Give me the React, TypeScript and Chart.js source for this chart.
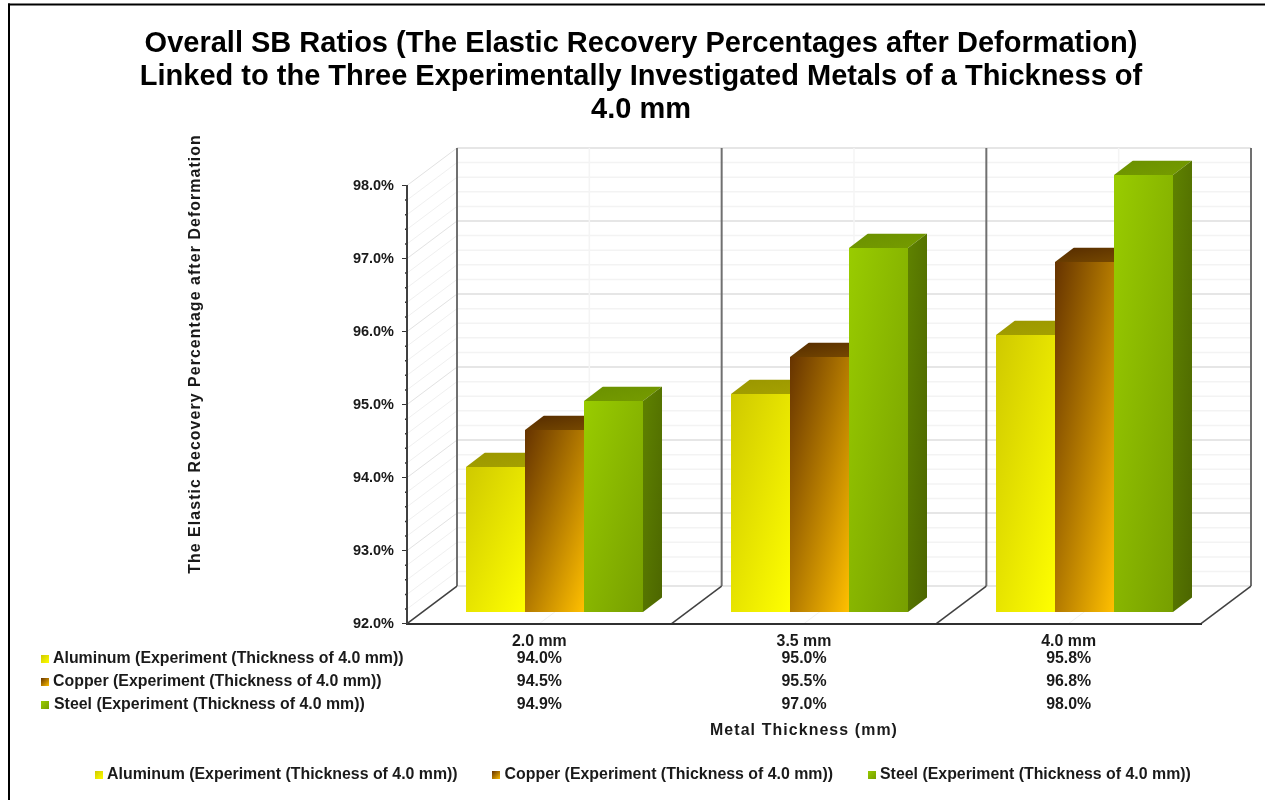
import { useEffect, useRef } from "react";
import { Chart, registerables } from "chart.js";

Chart.register(...registerables);

const FONT_FAMILY = '"Liberation Sans", Arial, sans-serif';

const categories = ["2.0 mm", "3.5 mm", "4.0 mm"];
const aluminum = [94.0, 95.0, 95.8];
const copper = [94.5, 95.5, 96.8];
const steel = [94.9, 97.0, 98.0];
const seriesNames = [
  "Aluminum (Experiment (Thickness of 4.0 mm))",
  "Copper (Experiment (Thickness of 4.0 mm))",
  "Steel (Experiment (Thickness of 4.0 mm))",
];
const titleLines = [
  "Overall SB Ratios (The Elastic Recovery Percentages after Deformation)",
  "Linked to the Three Experimentally Investigated Metals of a Thickness of",
  "4.0 mm",
];
const yAxisTitle = "The Elastic Recovery Percentage after Deformation";
const xAxisTitle = "Metal Thickness (mm)";

const frontColors = [
  ["#cfc900", "#ffff00"],
  ["#663300", "#ffc000"],
  ["#99cc00", "#779f00"],
];
const sideColors = [
  ["#8f8f00", "#6f6f00"],
  ["#4d2600", "#6f4a00"],
  ["#5f8200", "#4c6600"],
];
const topColors = [
  ["#9a9600", "#a6a200"],
  ["#552b00", "#7a4c00"],
  ["#6a9000", "#769c00"],
];

// Offsets that give the plot its perspective look.
const WALL_DX = 50;
const WALL_DY = 37.5;
const BAR_SHIFT_X = 15.5;
const BAR_SHIFT_Y = 11;
const BAR_DEPTH_X = 19;
const BAR_DEPTH_Y = 14.5;

const swatch = (colors: string[]) => {
  const c = document.createElement("canvas");
  c.width = 8;
  c.height = 8;
  const g = c.getContext("2d")!;
  const grad = g.createLinearGradient(0, 0, 8, 8);
  grad.addColorStop(0, colors[0]);
  grad.addColorStop(1, colors[1]);
  g.fillStyle = grad;
  g.fillRect(0, 0, 8, 8);
  return c;
};

const fillUnitGradient = (
  ctx: CanvasRenderingContext2D,
  colors: string[],
  x: number,
  y: number,
  w: number,
  h: number,
  path: () => void
) => {
  // The gradient runs corner to corner of the mark's box, whatever its aspect.
  ctx.save();
  path();
  ctx.clip();
  ctx.translate(x, y);
  ctx.scale(w, h);
  const grad = ctx.createLinearGradient(0, 0, 1, 1);
  grad.addColorStop(0, colors[0]);
  grad.addColorStop(1, colors[1]);
  ctx.fillStyle = grad;
  ctx.fillRect(0, 0, 1, 1);
  ctx.restore();
};

const line = (
  ctx: CanvasRenderingContext2D,
  x1: number,
  y1: number,
  x2: number,
  y2: number,
  color: string,
  width: number
) => {
  ctx.beginPath();
  ctx.moveTo(x1, y1);
  ctx.lineTo(x2, y2);
  ctx.strokeStyle = color;
  ctx.lineWidth = width;
  ctx.stroke();
};

const depthPlugin = {
  id: "depthPlot",
  afterLayout(chart: any) {
    // Nudges the centred legend row a little to the right.
    chart.legend.left += 3.5;
    chart.legend.right += 3.5;
  },
  beforeDraw(chart: any) {
    const { ctx, scales, width, height } = chart;
    const { x, y } = scales;
    const bottom = y.bottom;
    const left = x.left;
    const right = x.right;
    const top = y.top;
    const step = (right - left) / categories.length;

    ctx.save();
    ctx.fillStyle = "#ffffff";
    ctx.fillRect(0, 0, width, height);

    // Page frame, open on the right and at the bottom.
    ctx.fillStyle = "#000000";
    ctx.fillRect(8, 3.5, width - 8, 2);
    ctx.fillRect(8, 3.5, 2, height - 3.5);

    // Side wall and back wall grid.
    y.ticks.forEach((t: any) => {
      const py = y.getPixelForValue(t.value);
      const major = Math.abs(t.value - Math.round(t.value)) < 1e-6;
      const c = major ? "#dedede" : "#f3f3f3";
      line(ctx, left, py, left + WALL_DX, py - WALL_DY, major ? "#e2e2e2" : "#f0f0f0", 1);
      line(ctx, left + WALL_DX, py - WALL_DY, right + WALL_DX, py - WALL_DY, c, 1.5);
    });

    // Category centres on the wall and the floor.
    categories.forEach((_, i) => {
      const cx = x.getPixelForValue(i);
      line(ctx, cx + WALL_DX, top - WALL_DY, cx + WALL_DX, bottom - WALL_DY, "#f4f4f4", 1.5);
      line(ctx, cx + WALL_DX, bottom - WALL_DY, cx, bottom, "#f2f2f2", 1);
    });

    // Category boundaries: uprights on the wall and diagonals across the floor.
    for (let i = 0; i <= categories.length; i++) {
      const fx = left + step * i;
      line(ctx, fx + WALL_DX, top - WALL_DY, fx + WALL_DX, bottom - WALL_DY, "#707070", 2);
      line(ctx, fx + WALL_DX, bottom - WALL_DY, fx, bottom, "#404040", 1.5);
    }

    // Short minor ticks on the value axis.
    y.ticks.forEach((t: any) => {
      if (Math.abs(t.value - Math.round(t.value)) >= 1e-6) {
        const py = y.getPixelForValue(t.value);
        line(ctx, left - 2, py, left, py, "#333333", 1.5);
      }
    });
    ctx.restore();
  },
  beforeDatasetsDraw(chart: any) {
    const { ctx } = chart;
    chart.data.datasets.forEach((_: any, di: number) => {
      chart.getDatasetMeta(di).data.forEach((bar: any) => {
        // Whole-pixel edges keep the faces of each box flush with each other.
        const bx = Math.round(bar.x - bar.width / 2 + BAR_SHIFT_X);
        const w = Math.round(bar.x + bar.width / 2 + BAR_SHIFT_X) - bx;
        const by = Math.round(bar.y - BAR_SHIFT_Y);
        const bb = Math.round(bar.base - BAR_SHIFT_Y);
        const h = bb - by;
        const dx = BAR_DEPTH_X;
        const dy = BAR_DEPTH_Y;

        fillUnitGradient(ctx, topColors[di], bx, by - dy, w + dx, dy, () => {
          ctx.beginPath();
          ctx.moveTo(bx, by);
          ctx.lineTo(bx + dx, by - dy);
          ctx.lineTo(bx + w + dx, by - dy);
          ctx.lineTo(bx + w, by);
          ctx.closePath();
        });
        fillUnitGradient(ctx, sideColors[di], bx + w, by - dy, dx, h + dy, () => {
          ctx.beginPath();
          ctx.moveTo(bx + w, by);
          ctx.lineTo(bx + w + dx, by - dy);
          ctx.lineTo(bx + w + dx, bb - dy);
          ctx.lineTo(bx + w, bb);
          ctx.closePath();
        });
        fillUnitGradient(ctx, frontColors[di], bx, by, w, h, () => {
          ctx.beginPath();
          ctx.rect(bx, by, w, h);
        });
      });
    });
    // Boxes are painted here in series order so later ones overlap earlier ones.
    return false;
  },
  afterDraw(chart: any) {
    const { ctx, scales } = chart;
    const x = scales.x;
    const table = [aluminum, copper, steel];
    const rowY = [658.5, 681.5, 704.5];
    const textLeft = [53, 53, 54];

    ctx.save();
    ctx.fillStyle = "#1a1a1a";
    ctx.textBaseline = "middle";
    ctx.font = `bold 15.9px ${FONT_FAMILY}`;
    table.forEach((values, r) => {
      ctx.drawImage(swatch(frontColors[r]), 41, Math.round(rowY[r] - 4), 8, 8);
      ctx.textAlign = "left";
      ctx.fillText(seriesNames[r], textLeft[r], rowY[r]);
      ctx.textAlign = "center";
      values.forEach((v, i) => {
        ctx.fillText(`${v.toFixed(1)}%`, x.getPixelForValue(i), rowY[r]);
      });
    });

    // Axis titles are set with a little tracking.
    ctx.letterSpacing = "1.1px";
    ctx.textAlign = "center";
    ctx.fillText(xAxisTitle, (x.left + x.right) / 2, 731);

    ctx.letterSpacing = "1.08px";
    ctx.translate(196, 354);
    ctx.rotate(-Math.PI / 2);
    ctx.fillText(yAxisTitle, 0, 0);
    ctx.restore();
  },
};

export default function App() {
  const ref = useRef<HTMLCanvasElement>(null);

  useEffect(() => {
    const chart = new Chart(ref.current!, {
      type: "bar",
      data: {
        labels: categories,
        datasets: [aluminum, copper, steel].map((values, i) => ({
          label: seriesNames[i],
          data: values,
          base: 92,
          backgroundColor: frontColors[i][0],
          borderWidth: 0,
          barPercentage: 1,
          categoryPercentage: 0.67,
          pointStyle: swatch(frontColors[i]),
        })),
      },
      plugins: [depthPlugin],
      options: {
        responsive: false,
        animation: false,
        layout: { padding: { left: 17, right: 0, top: 0, bottom: 7 } },
        plugins: {
          tooltip: { enabled: false },
          title: {
            display: true,
            text: titleLines,
            color: "#000000",
            font: { family: FONT_FAMILY, size: 29, weight: "bold", lineHeight: 1.138 },
            padding: { top: 27, bottom: 59.5 },
          },
          legend: {
            position: "bottom",
            onClick: () => {},
            labels: {
              color: "#1a1a1a",
              font: { family: FONT_FAMILY, size: 15.9, weight: "bold" },
              usePointStyle: true,
              pointStyleWidth: 1,
              boxHeight: 8,
              padding: 38,
            },
          },
        },
        scales: {
          x: {
            grid: { display: false, drawTicks: false },
            border: { color: "#303030", width: 2 },
            ticks: {
              color: "#1a1a1a",
              padding: 8,
              font: { family: FONT_FAMILY, size: 15.9, weight: "bold" },
            },
            afterFit(scale: any) {
              scale.height = 105.5;
              // Keeps the plot clear of the right edge while the legend spans the full width.
              scale.paddingRight = 64;
            },
          },
          y: {
            min: 92,
            max: 98,
            grid: {
              drawOnChartArea: false,
              tickLength: 5,
              tickColor: (c: any) =>
                Math.abs(c.tick.value - Math.round(c.tick.value)) < 1e-6 ? "#333333" : "transparent",
            },
            border: { color: "#404040", width: 2 },
            ticks: {
              stepSize: 0.2,
              autoSkip: false,
              padding: 8,
              color: "#1a1a1a",
              font: { family: FONT_FAMILY, size: 14.5, weight: "bold" },
              callback: (v: any) =>
                Math.abs(v - Math.round(v)) < 1e-6 ? `${Number(v).toFixed(1)}%` : "",
            },
            afterFit(scale: any) {
              scale.width = 390;
            },
          },
        },
      },
    } as any);
    return () => chart.destroy();
  }, []);

  return (
    <div style={{ position: "absolute", left: 0, top: 0, width: 1265, height: 800 }}>
      <canvas ref={ref} width={1265} height={800} style={{ display: "block" }} />
    </div>
  );
}
